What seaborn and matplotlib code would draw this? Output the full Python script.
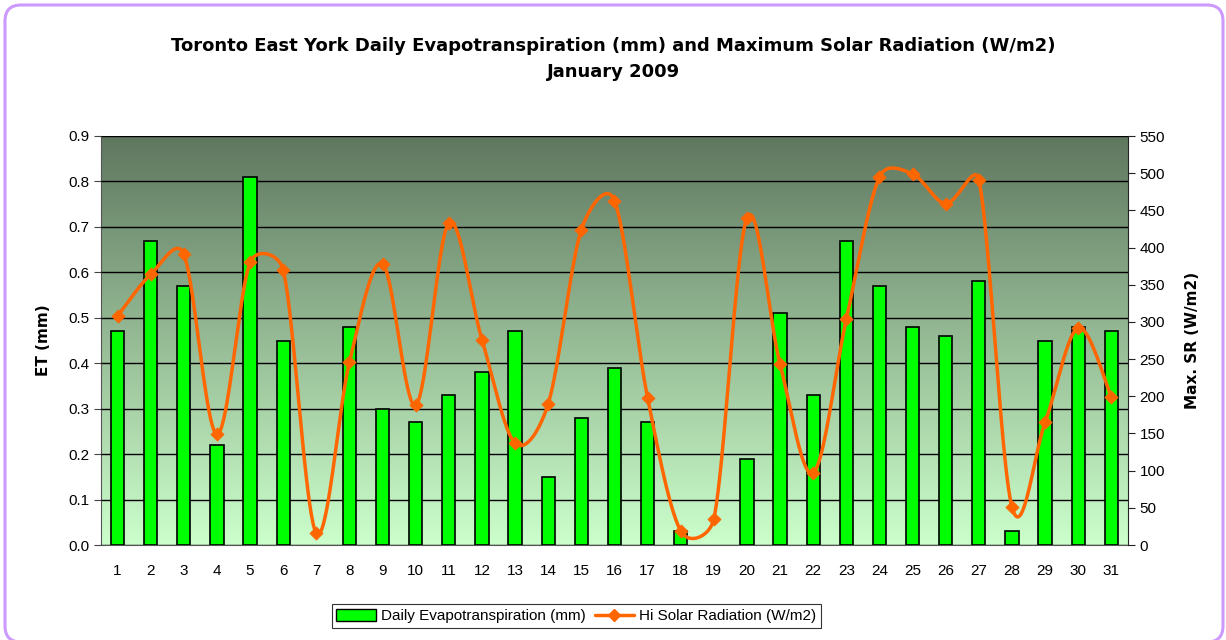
import numpy as np
import pandas as pd
import seaborn as sns
import matplotlib.pyplot as plt
from matplotlib.patches import FancyBboxPatch
from matplotlib.lines import Line2D
from matplotlib.patches import Patch

# Datos de enero 2009
dias = [str(d) for d in range(1, 32)]
et_mm = [0.47, 0.67, 0.57, 0.22, 0.81, 0.45, 0.00, 0.48, 0.30, 0.27,
         0.33, 0.38, 0.47, 0.15, 0.28, 0.39, 0.27, 0.03, 0.00, 0.19,
         0.51, 0.33, 0.67, 0.57, 0.48, 0.46, 0.58, 0.03, 0.45, 0.48, 0.47]
sr_max = [308, 364, 391, 149, 380, 370, 16, 246, 378, 188,
          433, 276, 137, 190, 424, 463, 198, 19, 35, 440,
          243, 97, 304, 495, 499, 459, 491, 51, 165, 292, 199]

df = pd.DataFrame({"dia": dias, "et": et_mm, "sr": sr_max})

sns.set_style("white")
plt.rcParams["font.family"] = ["Liberation Sans", "DejaVu Sans"]
plt.rcParams["text.color"] = "black"
plt.rcParams["xtick.color"] = "black"
plt.rcParams["ytick.color"] = "black"
plt.rcParams["axes.labelcolor"] = "black"

fig = plt.figure(figsize=(12.26, 6.4), dpi=100)
ax = fig.add_axes([0.0824, 0.1484, 0.8376, 0.6391])

# borde redondeado lila (en pulgadas)
borde = FancyBboxPatch((0.05, -0.02), 12.18, 6.37,
                       boxstyle="round,pad=0,rounding_size=0.16",
                       transform=fig.dpi_scale_trans, fill=False,
                       edgecolor="#cc99ff", linewidth=2.2, clip_on=False)
fig.patches.append(borde)

# fondo degradado
grad = np.linspace(0, 1, 256).reshape(-1, 1)
c_top = np.array([0x5f, 0x77, 0x5f]) / 255
c_bot = np.array([0xcc, 0xff, 0xcc]) / 255
img = c_top[None, None, :] * (1 - grad[:, :, None]) + c_bot[None, None, :] * grad[:, :, None]
ax.imshow(img, extent=[-0.5, 30.5, 0, 0.9], aspect="auto", zorder=0)

sns.barplot(data=df, x="dia", y="et", color="#00ff00", edgecolor="black",
            linewidth=1.2, width=0.4, saturation=1, ax=ax, zorder=3)
# sin contorno en los días sin ET
for barra, v in zip(ax.patches, et_mm):
    if v == 0:
        barra.set_visible(False)

ax.set_xlim(-0.5, 30.5)
ax.set_ylim(0, 0.9)
ax.set_yticks(np.arange(0, 0.91, 0.1))
ax.set_yticklabels([f"{v:.1f}" for v in np.arange(0, 0.91, 0.1)], fontsize=11)
ax.yaxis.grid(True, color="black", linewidth=1)
ax.set_axisbelow(False)
for gl in ax.get_ygridlines():
    gl.set_zorder(1)
ax.set_xticks(np.arange(-0.5, 31, 1))
ax.set_xticklabels([])
ax.set_xticks(np.arange(0, 31), minor=True)
ax.set_xticklabels(dias, minor=True, fontsize=11)
ax.tick_params(axis="x", which="major", direction="out", length=6, color="#444444")
ax.tick_params(axis="x", which="minor", length=0, pad=14)
ax.tick_params(axis="y", direction="out", length=5, color="#444444", left=True)
ax.set_xlabel("")
ax.set_ylabel("ET (mm)", fontsize=11, fontweight="bold", family="DejaVu Sans", labelpad=12)
for s in ["top", "right"]:
    ax.spines[s].set_visible(False)
ax.spines["left"].set_color("#555555")
ax.spines["bottom"].set_color("#555555")
ax.axhline(0.9, color="#888888", linewidth=1.2, zorder=2)

# eje secundario: radiación solar
ax2 = ax.twinx()
ax2.set_ylim(0, 550)
ax2.set_yticks(range(0, 551, 50))
ax2.tick_params(axis="y", direction="out", length=5, labelsize=11, color="#222222", right=True)
for s in ["top", "left", "bottom"]:
    ax2.spines[s].set_visible(False)
ax2.spines["right"].set_color("#222222")
ax2.set_ylabel("Max. SR (W/m2)", fontsize=11, fontweight="bold", family="DejaVu Sans", labelpad=14)

# curva suavizada tipo Excel: Catmull-Rom (1/6) con brazos limitados a media cuerda
x = np.arange(len(sr_max), dtype=float)
y = np.array(sr_max, dtype=float)
escala = np.array([33.1, 409 / 550])  # pixeles por unidad (x, y)
P = np.column_stack([x, y])

def brazo(v, cuerda):
    largo = np.linalg.norm(v * escala)
    tope = 0.5 * cuerda
    if largo > tope and largo > 0:
        v = v * tope / largo
    return v

xs, ys = [], []
t = np.linspace(0, 1, 40)
n = len(x)
for i in range(n - 1):
    p0 = P[max(i - 1, 0)]
    p1 = P[i]
    p2 = P[i + 1]
    p3 = P[min(i + 2, n - 1)]
    cuerda = np.linalg.norm((p2 - p1) * escala)
    c1 = p1 + brazo((p2 - p0) / 6, cuerda)
    c2 = p2 - brazo((p3 - p1) / 6, cuerda)
    b = ((1 - t) ** 3)[:, None] * p1 + (3 * (1 - t) ** 2 * t)[:, None] * c1 \
        + (3 * (1 - t) * t ** 2)[:, None] * c2 + (t ** 3)[:, None] * p2
    xs.extend(b[:, 0])
    ys.extend(b[:, 1])
ax2.plot(xs, ys, color="#ff6600", linewidth=2.5, zorder=4)
sns.scatterplot(x=x, y=y, marker="D", color="#ff6600", s=45, edgecolor="#ff6600",
                ax=ax2, zorder=5, legend=False)

fig.text(0.5, 0.908, "Toronto East York Daily Evapotranspiration (mm) and Maximum Solar Radiation (W/m2)\nJanuary 2009",
         ha="center", va="center", fontsize=13, fontweight="bold", family="DejaVu Sans", linespacing=1.6)

handles = [Patch(facecolor="#00ff00", edgecolor="black", label="Daily Evapotranspiration (mm)"),
           Line2D([0], [0], color="#ff6600", linewidth=2.5, marker="D", markersize=6,
                  label="Hi Solar Radiation (W/m2)")]
leg = fig.legend(handles=handles, loc="center", bbox_to_anchor=(0.47, 0.0375), ncol=2,
                 fontsize=11, frameon=True, fancybox=False, edgecolor="black",
                 handlelength=2.6, handleheight=0.8, columnspacing=0.6,
                 handletextpad=0.3, borderpad=0.3)
leg.get_frame().set_linewidth(0.8)

fig.savefig("out.png", dpi=100)
